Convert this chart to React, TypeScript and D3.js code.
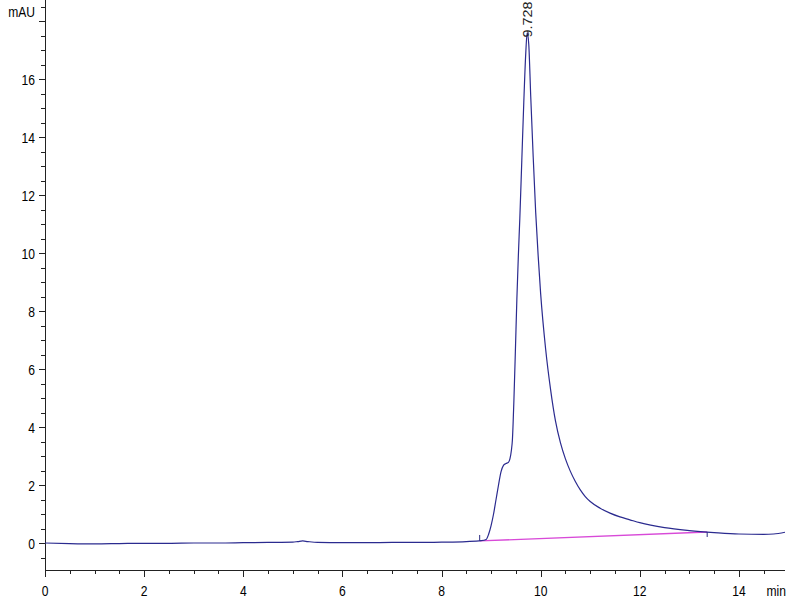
import React, { useEffect, useRef } from "react";
import * as d3 from "d3";

const times: number[] = [0, 0.5, 1.0, 1.5, 2.0, 2.5, 3.0, 3.5, 4.0, 4.5, 5.0, 5.1, 5.2, 5.3, 5.5, 6.0, 6.5, 7.0, 7.5, 8.0, 8.5, 8.8, 8.9, 8.95, 9.0, 9.05, 9.1, 9.15, 9.2, 9.25, 9.3, 9.35, 9.38, 9.41, 9.43, 9.46, 9.49, 9.52, 9.55, 9.58, 9.62, 9.66, 9.7, 9.728, 9.76, 9.8, 9.85, 9.9, 9.95, 10.0, 10.1, 10.2, 10.3, 10.4, 10.5, 10.6, 10.7, 10.8, 10.9, 11.0, 11.2, 11.4, 11.6, 11.8, 12.0, 12.5, 13.0, 13.5, 14.0, 14.5, 14.7, 14.93];
const signal: number[] = [0, -0.02, -0.03, -0.02, -0.01, -0.01, 0, 0, 0.01, 0.02, 0.03, 0.05, 0.07, 0.05, 0.02, 0.01, 0.01, 0.02, 0.02, 0.03, 0.05, 0.08, 0.12, 0.3, 0.6, 1.0, 1.5, 2.0, 2.45, 2.68, 2.74, 2.78, 2.9, 3.2, 3.55, 4.9, 6.6, 8.4, 9.9, 11.2, 13.2, 15.2, 16.9, 17.6, 17.2, 15.4, 13.3, 11.4, 9.9, 8.6, 6.7, 5.3, 4.2, 3.45, 2.9, 2.47, 2.12, 1.83, 1.6, 1.43, 1.2, 1.03, 0.9, 0.8, 0.7, 0.53, 0.43, 0.36, 0.31, 0.3, 0.31, 0.37];

const baselineTimes: number[] = [8.77, 13.36];
const baselineValues: number[] = [0.07, 0.38];

const peakTime = 9.728;
const peakValue = 17.6;
const peakLabel = "9.728";

const yTickValues: number[] = [0, 2, 4, 6, 8, 10, 12, 14, 16];
const xTickValues: number[] = [0, 2, 4, 6, 8, 10, 12, 14];

export default function App() {
  const ref = useRef<SVGSVGElement>(null);

  useEffect(() => {
    const svg = d3.select(ref.current);
    svg.selectAll("*").remove();

    const x = d3.scaleLinear().domain([0, 14.93]).range([45, 785]);
    const y = d3.scaleLinear().domain([0, 16]).range([543, 79]);
    const yBottom = 570;
    const xLeft = 45;
    const font = "'Liberation Sans', Arial, sans-serif";
    const axisColor = "#222";
    const sx = 0.78;

    const label = (tx: number, ty: number, s: string, anchor: string) =>
      svg.append("text")
        .attr("transform", `translate(${tx},${ty}) scale(${sx},1)`)
        .attr("text-anchor", anchor)
        .attr("font-family", font).attr("font-size", 15.5)
        .attr("fill", "#000").text(s);

    // axes lines
    svg.append("line").attr("x1", xLeft + 0.5).attr("x2", xLeft + 0.5).attr("y1", 0).attr("y2", yBottom)
      .attr("stroke", axisColor).attr("stroke-width", 1);
    svg.append("line").attr("x1", xLeft).attr("x2", x(14.93)).attr("y1", yBottom + 0.5).attr("y2", yBottom + 0.5)
      .attr("stroke", axisColor).attr("stroke-width", 1);

    // y ticks
    const yMinor = d3.range(-0.5, 18.75, 0.5);
    yMinor.forEach((v) => {
      const major = Math.abs(v % 2) < 1e-9;
      svg.append("line").attr("x1", xLeft - (major ? 6 : 4)).attr("x2", xLeft)
        .attr("y1", Math.round(y(v)) + 0.5).attr("y2", Math.round(y(v)) + 0.5)
        .attr("stroke", axisColor);
    });
    yTickValues.forEach((v) => {
      label(35, y(v) + 5.5, String(v), "end");
    });
    label(35, 17, "mAU", "end");

    // x ticks
    const xMinor = d3.range(0, 14.9, 0.5);
    xMinor.forEach((v) => {
      const major = Math.abs(v % 2) < 1e-9;
      svg.append("line").attr("x1", Math.round(x(v)) + 0.5).attr("x2", Math.round(x(v)) + 0.5)
        .attr("y1", yBottom).attr("y2", yBottom + (major ? 7 : 4))
        .attr("stroke", axisColor);
    });
    xTickValues.forEach((v) => {
      label(x(v), 596, String(v), "middle");
    });
    label(786, 596, "min", "end");

    // baseline (integration)
    svg.append("line")
      .attr("x1", x(baselineTimes[0])).attr("y1", y(baselineValues[0]))
      .attr("x2", x(baselineTimes[1])).attr("y2", y(baselineValues[1]))
      .attr("stroke", "#d84ad8").attr("stroke-width", 1.3);
    svg.append("line")
      .attr("x1", x(baselineTimes[0])).attr("x2", x(baselineTimes[0]))
      .attr("y1", y(baselineValues[0]) - 6).attr("y2", y(baselineValues[0]))
      .attr("stroke", "#2a2a80");
    svg.append("line")
      .attr("x1", x(baselineTimes[1])).attr("x2", x(baselineTimes[1]))
      .attr("y1", y(baselineValues[1])).attr("y2", y(baselineValues[1]) + 5)
      .attr("stroke", "#2a2a80");

    // signal
    const data = times.map((t, i) => [t, signal[i]] as [number, number]);
    const line = d3.line<[number, number]>()
      .x((d) => x(d[0]))
      .y((d) => y(d[1]))
      .curve(d3.curveMonotoneX);
    svg.append("path").datum(data).attr("d", line as any)
      .attr("fill", "none").attr("stroke", "#2b2b8f").attr("stroke-width", 1.2);

    // peak label
    const px = x(peakTime);
    const py = y(peakValue) + 5;
    svg.append("text")
      .attr("transform", `translate(${px + 4.5},${py}) rotate(-90)`)
      .attr("text-anchor", "start")
      .attr("font-family", font).attr("font-size", 13.5).attr("fill", "#222")
      .attr("textLength", 36).attr("lengthAdjust", "spacingAndGlyphs")
      .text(peakLabel);
  }, []);

  return (
    <svg ref={ref} width={800} height={600}
      style={{ position: "absolute", left: 0, top: 0, background: "#fff" }} />
  );
}
